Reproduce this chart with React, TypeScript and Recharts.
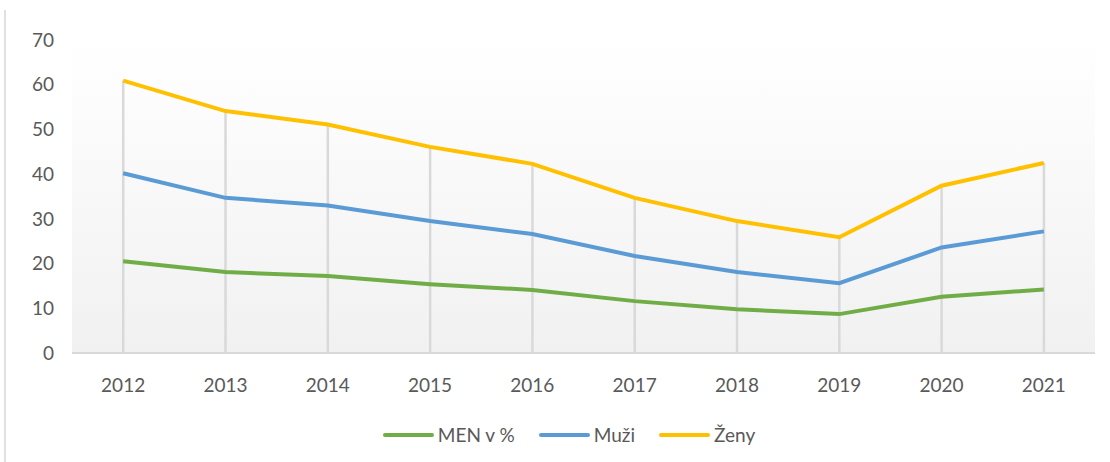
import { Bar, CartesianGrid, ComposedChart, Line, XAxis, YAxis } from "recharts"

const years = ["2012", "2013", "2014", "2015", "2016", "2017", "2018", "2019", "2020", "2021"]
const men = [20.5, 18.1, 17.2, 15.4, 14.1, 11.6, 9.8, 8.7, 12.6, 14.2]
const muzi = [40.2, 34.7, 33.0, 29.5, 26.6, 21.7, 18.1, 15.6, 23.6, 27.2]
const zeny = [60.9, 54.1, 51.1, 46.1, 42.3, 34.7, 29.5, 25.9, 37.4, 42.5]
const yTicks = [0, 10, 20, 30, 40, 50, 60, 70]

const data = years.map((year, i) => ({
  year,
  men: men[i],
  muzi: muzi[i],
  zeny: zeny[i],
}))

const font = "Lato, 'Noto Sans', sans-serif"

const legendItems = [
  { label: "MEN v %", color: "#70ad47" },
  { label: "Muži", color: "#5b9bd5" },
  { label: "Ženy", color: "#ffc000" },
]

// excel style drop line from the top series down to the axis
const DropLine = (props: any) => {
  const { x, y, width, height } = props
  const cx = x + width / 2
  return <line x1={cx} x2={cx} y1={y} y2={y + height} stroke="#d9d9d9" strokeWidth={2.5} />
}

export default function App() {
  return (
    <div style={{ position: "absolute", left: 0, top: 0, width: 1110, height: 462, background: "#fff", overflow: "hidden" }}>
      <div style={{ position: "absolute", left: 4, top: 10, width: 2, height: 452, background: "#e0e0e0" }} />
      <ComposedChart width={1110} height={462} data={data} margin={{ top: 40, right: 15, left: 0, bottom: 79 }}>
        <defs>
          <linearGradient id="bg" x1="0" y1="0" x2="0" y2="1">
            <stop offset="0%" stopColor="#ffffff" />
            <stop offset="100%" stopColor="#f1f1f1" />
          </linearGradient>
        </defs>
        <CartesianGrid horizontal={false} vertical={false} fill="url(#bg)" />
        <XAxis
          dataKey="year"
          height={30}
          axisLine={{ stroke: "#d9d9d9", strokeWidth: 2 }}
          tickLine={false}
          tick={{ fill: "#595959", fontSize: 19, fontFamily: font }}
          tickMargin={20}
        />
        <YAxis
          width={72}
          domain={[0, 70]}
          ticks={yTicks}
          axisLine={false}
          tickLine={false}
          tick={{ fill: "#595959", fontSize: 19, fontFamily: font }}
          tickMargin={12}
        />
        <Bar dataKey="zeny" shape={DropLine} isAnimationActive={false} legendType="none" />
        <Line dataKey="men" stroke="#70ad47" strokeWidth={4} dot={false} isAnimationActive={false} />
        <Line dataKey="muzi" stroke="#5b9bd5" strokeWidth={4} dot={false} isAnimationActive={false} />
        <Line dataKey="zeny" stroke="#ffc000" strokeWidth={4} dot={false} isAnimationActive={false} />
      </ComposedChart>
      <div
        style={{
          position: "absolute",
          top: 423,
          left: 0,
          width: 1138,
          display: "flex",
          justifyContent: "center",
          gap: 24,
          fontFamily: font,
          fontSize: 19,
          color: "#595959",
        }}
      >
        {legendItems.map((item) => (
          <div key={item.label} style={{ display: "flex", alignItems: "center", gap: 4 }}>
            <div style={{ width: 51, height: 4, borderRadius: 2, background: item.color }} />
            <span>{item.label}</span>
          </div>
        ))}
      </div>
    </div>
  )
}
